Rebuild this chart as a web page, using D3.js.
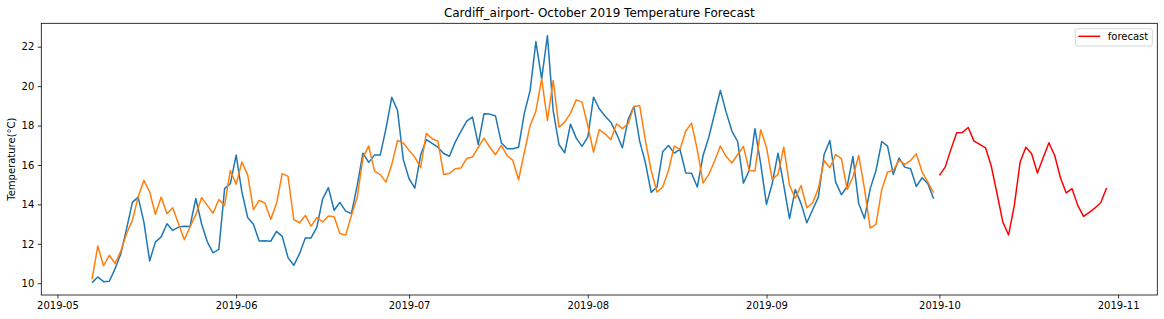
<!DOCTYPE html>
<html>
<head>
<meta charset="utf-8">
<script src="https://cdn.jsdelivr.net/npm/d3@7"></script>
<style>
  html, body { margin: 0; padding: 0; background: #fff; }
  svg { display: block; font-family: "DejaVu Sans", sans-serif; }
</style>
</head>
<body>
<svg id="chart" width="1164" height="319"></svg>
<script>
// ---------------- data ----------------
const titleText = "Cardiff_airport- October 2019 Temperature Forecast";
const yLabelText = "Temperature(°C)";
const historyStart = "2019-05-07";   // first day of actual / fitted series (daily)
const forecastStart = "2019-10-01";  // first day of forecast series (daily)

const actualValues = [
  10.03,10.32,10.08,10.1,10.74,11.5,12.77,14.1,14.37,13.1,11.13,12.1,12.35,13.02,12.68,12.85,12.89,12.88,14.3,13.02,12.1,
  11.54,11.72,14.8,15.05,16.5,14.63,13.34,12.99,12.14,12.16,
  12.13,12.63,12.38,11.3,10.91,11.5,12.3,12.3,12.85,14.27,
  14.85,13.7,14.1,13.66,13.53,14.96,16.6,16.13,16.5,16.5,
  17.86,19.43,18.76,16.27,15.3,14.83,16.5,17.28,17.1,16.9,
  16.58,16.44,17.16,17.7,18.22,18.43,17.04,18.6,18.58,18.48,
  17.13,16.82,16.82,16.9,18.63,19.78,22.26,20.37,22.56,18.76,
  17.04,16.62,18.07,17.36,16.94,17.41,19.44,18.85,18.48,18.17,
  17.58,16.87,18.31,18.97,17.21,16.11,14.61,14.88,16.67,16.99,
  16.6,16.79,15.59,15.58,14.88,16.48,17.41,18.6,19.78,18.68,
  17.72,17.19,15.08,15.72,17.84,16.06,14.0,15.06,16.6,14.96,
  13.28,14.76,14.04,13.07,13.73,14.37,16.53,17.24,15.13,14.49,
  14.91,16.43,14.04,13.28,14.8,15.72,17.19,16.96,15.52,16.35,
  15.89,15.81,14.91,15.35,15.05,14.29
];

const fittedValues = [
  10.19,11.89,10.88,11.42,11.0,11.64,12.52,13.19,14.37,15.22,14.63,13.5,14.37,13.53,13.83,13.02,12.21,12.85,13.48,14.34,13.95,
  13.55,14.25,13.95,15.72,15.02,16.15,15.5,13.73,14.2,14.07,
  13.24,14.04,15.56,15.42,13.23,13.07,13.44,12.9,13.33,13.11,
  13.41,13.37,12.52,12.44,13.45,14.35,16.36,16.97,15.69,15.51,
  15.13,16.02,17.24,17.11,16.74,16.4,15.86,17.61,17.33,17.21,
  15.52,15.57,15.81,15.84,16.33,16.4,16.9,17.36,16.9,16.52,
  16.99,16.48,16.23,15.25,16.65,18.0,18.73,20.37,18.26,20.28,
  17.92,18.17,18.63,19.3,19.19,18.0,16.65,17.79,17.58,17.28,
  18.09,17.84,18.09,18.97,19.02,17.24,15.72,14.63,14.88,15.72,
  16.96,16.79,17.72,18.12,16.77,15.08,15.52,16.2,16.96,16.43,
  16.1,16.53,16.94,15.72,15.69,17.79,16.9,15.26,15.52,16.9,
  14.96,14.32,14.96,13.83,14.07,14.8,16.23,15.86,16.53,16.32,
  14.75,15.39,16.48,14.8,12.8,12.99,14.75,15.64,15.72,16.23,
  16.03,16.23,16.57,15.64,15.13,14.59
];

const forecastValues = [
  15.47,15.89,16.79,17.63,17.65,17.9,17.21,17.04,16.87,15.94,
  14.54,13.11,12.45,13.95,16.15,16.9,16.57,15.59,16.37,17.13,
  16.48,15.35,14.58,14.8,13.95,13.39,13.6,13.82,14.1,14.83
];

const yTicks = [10, 12, 14, 16, 18, 20, 22];
const xTickMonths = ["2019-05-01","2019-06-01","2019-07-01","2019-08-01","2019-09-01","2019-10-01","2019-11-01"];
const legendLabels = ["forecast"];

// ---------------- build ----------------
const parse = d3.utcParse("%Y-%m-%d");
const day = 86400000;
const toSeries = (start, vals) => vals.map((v, i) => ({ date: new Date(parse(start).getTime() + i * day), value: v }));
const actual = toSeries(historyStart, actualValues);
const fitted = toSeries(historyStart, fittedValues);
const forecast = toSeries(forecastStart, forecastValues);

const plot = { left: 41.3, right: 1157.3, top: 23.3, bottom: 295 };

const allDates = [...actual, ...forecast].map(d => d.date.getTime());
const dMin = d3.min(allDates), dMax = d3.max(allDates);
const dPad = (dMax - dMin) * 0.05;
const x = d3.scaleUtc().domain([new Date(dMin - dPad), new Date(dMax + dPad)]).range([plot.left, plot.right]);

const allVals = [...actualValues, ...fittedValues, ...forecastValues];
const vMin = d3.min(allVals), vMax = d3.max(allVals);
const vPad = (vMax - vMin) * 0.05;
const y = d3.scaleLinear().domain([vMin - vPad, vMax + vPad]).range([plot.bottom, plot.top]);

const svg = d3.select("#chart");

const line = d3.line().x(d => x(d.date)).y(d => y(d.value));

const g = svg.append("g");
g.append("path").datum(actual).attr("d", line).attr("fill", "none")
  .attr("stroke", "#1f77b4").attr("stroke-width", 1.5).attr("stroke-linejoin", "round");
g.append("path").datum(fitted).attr("d", line).attr("fill", "none")
  .attr("stroke", "#ff7f0e").attr("stroke-width", 1.5).attr("stroke-linejoin", "round");
g.append("path").datum(forecast).attr("d", line).attr("fill", "none")
  .attr("stroke", "#ff0000").attr("stroke-width", 1.5).attr("stroke-linejoin", "round");

// axes
const xAxis = d3.axisBottom(x)
  .tickValues(xTickMonths.map(parse))
  .tickFormat(d3.utcFormat("%Y-%m"))
  .tickSizeInner(3.5).tickSizeOuter(0).tickPadding(3.5);
const yAxis = d3.axisLeft(y)
  .tickValues(yTicks)
  .tickFormat(d3.format("d"))
  .tickSizeInner(3.5).tickSizeOuter(0).tickPadding(3.5);

const gx = svg.append("g").attr("transform", `translate(0,${plot.bottom})`).call(xAxis);
const gy = svg.append("g").attr("transform", `translate(${plot.left},0)`).call(yAxis);
[gx, gy].forEach(a => {
  a.select(".domain").remove();
  a.selectAll(".tick line").attr("stroke", "#000").attr("stroke-width", 0.8);
  a.selectAll(".tick text").attr("fill", "#000").style("font-size", "10px").style("font-family", "DejaVu Sans");
});

// frame (spines)
svg.append("rect")
  .attr("x", plot.left).attr("y", plot.top)
  .attr("width", plot.right - plot.left).attr("height", plot.bottom - plot.top)
  .attr("fill", "none").attr("stroke", "#000").attr("stroke-width", 0.8);

// title
svg.append("text")
  .attr("x", (plot.left + plot.right) / 2).attr("y", 16.5)
  .attr("text-anchor", "middle").style("font-size", "12px").attr("fill", "#000")
  .text(titleText);

// y label
svg.append("text")
  .attr("transform", `translate(14.5,${(plot.top + plot.bottom) / 2}) rotate(-90)`)
  .attr("text-anchor", "middle").style("font-size", "10px").attr("fill", "#000")
  .text(yLabelText);

// legend
const lg = svg.append("g").attr("transform", "translate(1075.3,28.7)");
lg.append("rect").attr("x", 0).attr("y", 0).attr("width", 77).attr("height", 17.3)
  .attr("rx", 2).attr("fill", "#fff").attr("fill-opacity", 0.8)
  .attr("stroke", "#cccccc").attr("stroke-width", 0.8);
lg.append("line").attr("x1", 3).attr("x2", 25).attr("y1", 7.6).attr("y2", 7.6)
  .attr("stroke", "#ff0000").attr("stroke-width", 1.5);
lg.append("text").attr("x", 32.5).attr("y", 11.4).style("font-size", "10px").attr("fill", "#000")
  .text(legendLabels[0]);
</script>
</body>
</html>
